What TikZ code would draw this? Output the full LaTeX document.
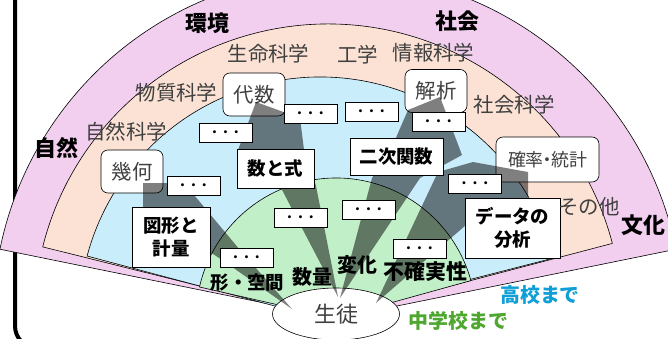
\documentclass[tikz,border=0pt]{standalone}
\usepackage{fontspec}
\newfontfamily\jp{Noto Sans CJK JP}
\usetikzlibrary{shapes.geometric}
\definecolor{cpink}{HTML}{F2CEEF}
\definecolor{cpeach}{HTML}{FBE2D5}
\definecolor{cblue}{HTML}{CAEDFB}
\definecolor{cgreen}{HTML}{C1F0C8}
\definecolor{tgray}{HTML}{404040}
\definecolor{hblue}{HTML}{0F9ED5}
\definecolor{jgreen}{HTML}{4EA72E}
\begin{document}
\begin{tikzpicture}[x=1bp,y=1bp,
  sectorline/.style={draw=black, line width=0.6bp},
  fldlbl/.style={font=\jp\fontsize{20.5}{24}\selectfont, text=tgray, inner sep=0pt},
  arealbl/.style={font=\jp\bfseries\fontsize{22}{26}\selectfont, inner sep=0pt},
  strandlbl/.style={font=\jp\bfseries\fontsize{20}{24}\selectfont, inner sep=0pt},
  topicbox/.style={draw=black, line width=0.6bp, fill=white, rounded corners=7bp, minimum width=62bp, minimum height=43bp, inner sep=0pt, font=\jp\fontsize{20.5}{24}\selectfont, text=tgray},
  unitbox/.style={draw=black, line width=0.8bp, fill=white, inner sep=0pt, align=center, font=\jp\bfseries\fontsize{18.5}{23}\selectfont},
  dotbox/.style={draw=black, line width=0.8bp, fill=white, minimum width=53bp, minimum height=19bp, inner sep=0pt, font=\bfseries\fontsize{10}{10}\selectfont},
  grayband/.style={fill=black, fill opacity=0.5},
  endlbl/.style={font=\jp\bfseries\fontsize{20}{24}\selectfont, inner sep=0pt}
]
\useasboundingbox (0,0) rectangle (668,338);
\clip (0,0) rectangle (668,338);

% frame
\draw[line width=4bp, rounded corners=22bp] (15,350) -- (15,-10) -- (300,-10);

% sectors
\path[sectorline, fill=cpink] (338,20) -- ++(11.5:345) arc[start angle=11.5, end angle=168.5, radius=345] -- cycle;
\path[sectorline, fill=cpeach] (328,20) -- ++(14.7:294) arc[start angle=14.7, end angle=166.0, radius=294] -- cycle;
\path[sectorline, fill=cblue] (320,20) -- ++(14.4:241) arc[start angle=14.4, end angle=165.1, radius=241] -- cycle;
\path[sectorline, fill=cgreen] (336,20) -- ++(15.5:140) arc[start angle=15.5, end angle=167.2, radius=140] -- cycle;

% student
\node[ellipse, draw=black, line width=0.6bp, fill=white, minimum width=127bp, minimum height=52bp, inner sep=0pt,
      font=\jp\fontsize{22}{26}\selectfont, text=tgray] (st) at (336,24) {生徒};

% upper topic boxes
\node[topicbox] (kika) at (132,166.5) {幾何};
\node[topicbox] (daisu) at (254,243.5) {代数};
\node[topicbox] (kaiseki) at (436,247) {解析};
\node[topicbox, minimum width=103bp, minimum height=45bp, font=\jp\fontsize{18}{22}\selectfont] (kakuritsu) at (547.5,178.5) {確率{\kern-0.3em}・{\kern-0.3em}統計};

% gray bands
\fill[grayband] (292,29) -- (225,76) -- (143,131) -- (143,155) -- (184,155) -- (240,88) -- cycle;
\fill[grayband] (338,41) -- (280,152) -- (238,188) -- (256,236) -- (300,220) -- (304,188) -- (316,152) -- cycle;
\fill[grayband] (340,40) -- (372,160) -- (395,198) -- (408,228) -- (440,241) -- (462,183) -- (420,160) -- cycle;
\fill[grayband] (376,35) -- (438,166) -- (473,176) -- (528,166) -- (528,133) -- (466,113) -- cycle;

% unit boxes
\node[unitbox, minimum width=78bp, minimum height=60bp] (zukei) at (171,101) {図形と\\計量};
\node[unitbox, minimum width=77bp, minimum height=39bp] (sushiki) at (275.5,169.5) {数と式};
\node[unitbox, minimum width=93bp, minimum height=37bp] (niji) at (396.5,181.5) {二次関数};
\node[unitbox, minimum width=95bp, minimum height=60bp] (data) at (512.5,110) {データの\\分析};

% dots boxes
\node[dotbox] (d1) at (225.5,205.5) {•\kern2pt•\kern2pt•};
\node[dotbox] (d2) at (310.5,224.5) {•\kern2pt•\kern2pt•};
\node[dotbox] (d3) at (371.5,226.5) {•\kern2pt•\kern2pt•};
\node[dotbox] (d4) at (438.5,216.5) {•\kern2pt•\kern2pt•};
\node[dotbox] (d5) at (193.5,152) {•\kern2pt•\kern2pt•};
\node[dotbox] (d6) at (475,154) {•\kern2pt•\kern2pt•};
\node[dotbox] (d7) at (300.5,120.5) {•\kern2pt•\kern2pt•};
\node[dotbox] (d8) at (368.5,128) {•\kern2pt•\kern2pt•};
\node[dotbox] (d9) at (246.5,80.5) {•\kern2pt•\kern2pt•};
\node[dotbox] (d10) at (419.5,89.5) {•\kern2pt•\kern2pt•};

% field labels
\node[fldlbl] (f1) at (268.5,284) {生命科学};
\node[fldlbl] (f2) at (357.5,283) {工学};
\node[fldlbl] (f3) at (433.5,285) {情報科学};
\node[fldlbl] (f4) at (176.5,245) {物質科学};
\node[fldlbl] (f5) at (126,206) {自然科学};
\node[fldlbl] (f6) at (514.5,233) {社会科学};
\node[fldlbl] (f7) at (589,131) {その他};

% area labels
\node[arealbl] (a1) at (207.5,315) {環境};
\node[arealbl] (a2) at (457.5,317) {社会};
\node[arealbl] (a3) at (56,190) {自然};
\node[arealbl] (a4) at (643.5,113) {文化};

% strand labels
\node[strandlbl, font=\jp\bfseries\fontsize{18.5}{22}\selectfont] (s1) at (247.5,55.5) {形・空間};
\node[strandlbl] (s2) at (312,61) {数量};
\node[strandlbl] (s3) at (357,73) {変化};
\node[strandlbl, font=\jp\bfseries\fontsize{21}{24}\selectfont] (s4) at (425.5,66) {不確実性};

% level labels
\node[endlbl, text=hblue] (h1) at (540,43) {高校まで};
\node[endlbl, text=jgreen] (h2) at (458.5,17) {中学校まで};
\end{tikzpicture}
\end{document}
